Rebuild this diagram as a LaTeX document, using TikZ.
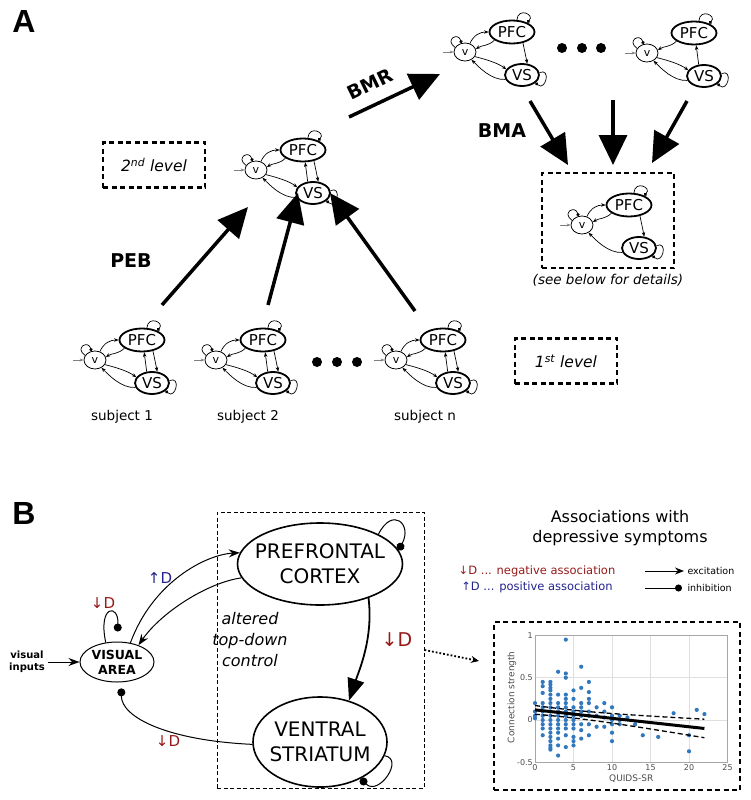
\documentclass[tikz,border=0pt]{standalone}
\usepackage{fontspec}
\setmainfont{DejaVu Sans}
\newfontfamily\panelfont{Liberation Sans}
\usetikzlibrary{shapes, arrows.meta, positioning}
\definecolor{negred}{RGB}{150,25,25}
\definecolor{posblue}{RGB}{35,35,140}
\definecolor{ptblue}{RGB}{50,120,190}

% panel A: small network motifs
\tikzstyle{vnode} = [ellipse, draw, line width=0.8pt, minimum width=22pt, minimum height=18pt, inner sep=0pt, font=\fontsize{11}{11}\selectfont]
\tikzstyle{pfcnode} = [ellipse, draw, line width=1.8pt, minimum width=45pt, minimum height=23pt, inner sep=0pt, font=\fontsize{15}{15}\selectfont]
\tikzstyle{vsnode} = [pfcnode, minimum width=34pt, minimum height=22pt]
\tikzstyle{small} = [line width=0.7pt, -{Stealth[length=4.5pt,width=3.5pt]}]
\tikzstyle{smallinh} = [line width=0.7pt, -{Circle[length=3.2pt]}]
\tikzstyle{input} = [line width=0.7pt, gray, -{Stealth[length=4pt,width=3pt]}]
\tikzstyle{bigarrow} = [line width=3.5pt, -{Triangle[length=30pt,width=28pt]}]
\tikzstyle{dashbox} = [draw, line width=2.4pt, dash pattern=on 5pt off 3.5pt]
\tikzstyle{levelbox} = [dashbox, minimum width=102pt, minimum height=45pt, font=\fontsize{15.5}{15.5}\selectfont\itshape]
\tikzstyle{method} = [font=\fontsize{19}{19}\selectfont\bfseries]
\tikzstyle{subj} = [font=\fontsize{13.5}{13.5}\selectfont]
\tikzstyle{panel} = [font=\panelfont\bfseries\fontsize{32}{32}\selectfont]
% panel B
\tikzstyle{region} = [ellipse, draw, line width=1.6pt, align=center, inner xsep=-10pt, inner ysep=0pt, font=\fontsize{20}{25}\selectfont]
\tikzstyle{visarea} = [ellipse, draw, line width=1pt, align=center, inner xsep=-3pt, inner ysep=0pt, minimum width=74pt, minimum height=40pt, font=\fontsize{12.5}{15}\selectfont\bfseries]
\tikzstyle{exc} = [line width=1pt, -{Stealth[length=11pt,width=8pt]}]
\tikzstyle{inh} = [line width=1pt, -{Circle[length=8pt]}]
\tikzstyle{bigexc} = [line width=1.8pt, -{Triangle[length=22pt,width=17pt]}]
\tikzstyle{ctrlbox} = [draw, line width=1pt, dash pattern=on 4pt off 2.5pt, minimum width=207pt, minimum height=276pt]
\tikzstyle{dlab} = [font=\fontsize{15}{15}\selectfont]
\tikzstyle{leg} = [font=\fontsize{11.5}{11.5}\selectfont]
\tikzstyle{legsmall} = [font=\fontsize{9.5}{9.5}\selectfont, anchor=west]
\tikzstyle{tick} = [font=\fontsize{8}{8}\selectfont, text=gray!60!black, inner sep=2pt]

\tikzset{motif/.pic={
  \node[vnode] (-v) at (0,0) {v};
  \node[pfcnode] (-pfc) at (47,-20) {PFC};
  \node[vsnode] (-vs) at (57,23) {VS};
  \coordinate (-in) at (-22,0);
  \draw[input] (-in) -- (-v.west);
  \draw[smallinh] (-v.155) .. controls +(-11,-8) and +(-3,-11) .. (-v.112);
  \draw[smallinh] (-pfc.68) .. controls +(1,-13) and +(8,-8) .. (-pfc.32);
  \draw[smallinh] (-vs.8) .. controls +(12,-5) and +(10,9) .. (-vs.-30);
}}
\newcommand{\edgeVP}[1]{\draw[small] (#1-v.60) .. controls +(4,-9) and +(-8,0) .. (#1-pfc.west);}
\newcommand{\edgePV}[1]{\draw[small] (#1-pfc.205) .. controls +(-6,6) and +(6,-4) .. (#1-v.15);}
\newcommand{\edgePS}[1]{\draw[small] (#1-pfc.-45) -- (#1-vs.65);}
\newcommand{\edgeSP}[1]{\draw[small] (#1-vs.115) -- (#1-pfc.-80);}
\newcommand{\edgeVS}[1]{\draw[small] (#1-v.-25) .. controls +(12,3) and +(-8,-6) .. (#1-vs.160);}
\newcommand{\edgeSV}[1]{\draw[small] (#1-vs.195) .. controls +(-14,1) and +(7,7) .. (#1-v.-50);}

\begin{document}
\begin{tikzpicture}[x=1pt, y=-1pt]
\useasboundingbox (0,0) rectangle (750,800);

%% ---------------- A ----------------
\node[panel] (la) at (24,21) {A};

\pic (grp) at (256,170) {motif};
\pic (bmr1) at (465,52) {motif};
\pic (bmr2) at (647,53) {motif};
\pic (res) at (582,225) {motif};
\pic (s1) at (95,360) {motif};
\pic (s2) at (216,360) {motif};
\pic (sn) at (396,360) {motif};

\foreach \m in {grp,s1,s2,sn} {\edgeVP{\m}\edgePV{\m}\edgePS{\m}\edgeSP{\m}\edgeVS{\m}\edgeSV{\m}}
\edgeVP{bmr1}\edgePV{bmr1}\edgePS{bmr1}\edgeVS{bmr1}\edgeSV{bmr1}
\edgePV{bmr2}\edgeSP{bmr2}\edgeVS{bmr2}\edgeSV{bmr2}
\edgeVP{res}\edgePV{res}\edgePS{res}\edgeSV{res}

\foreach \x in {562,582,601} \fill (\x,48) circle (5pt);
\foreach \x in {317,337,357} \fill (\x,362) circle (5pt);

\node[levelbox] (lev2) at (154,165) {2\textsuperscript{nd} level};
\node[levelbox] (lev1) at (566,361) {1\textsuperscript{st} level};
\node[dashbox, minimum width=132pt, minimum height=95pt] (resbox) at (608,220.5) {};
\node[font=\fontsize{13.5}{13.5}\selectfont\itshape, below=2pt of resbox] (details) {(see below for details)};

\node[subj] (lab1) at (122,417) {subject 1};
\node[subj] (lab2) at (248,417) {subject 2};
\node[subj] (labn) at (425,417) {subject n};

% PEB
\coordinate (p1a) at (162,305); \coordinate (p1b) at (248,207);
\coordinate (p2a) at (268,305); \coordinate (p2b) at (298,193);
\coordinate (p3a) at (415,311); \coordinate (p3b) at (330,193);
\draw[bigarrow] (p1a) -- (p1b);
\draw[bigarrow] (p2a) -- (p2b);
\draw[bigarrow] (p3a) -- (p3b);
\node[method] (peb) at (131,261) {PEB};

% BMR
\coordinate (r1a) at (349,117); \coordinate (r1b) at (440,74);
\draw[bigarrow] (r1a) -- (r1b);
\node[method, rotate=26, inner sep=1pt] (bmr) at (370,84) {BMR};

% BMA
\coordinate (m1a) at (530,101); \coordinate (m1b) at (568,165);
\coordinate (m2a) at (613,100); \coordinate (m2b) at (613,165);
\coordinate (m3a) at (687,101); \coordinate (m3b) at (652,163);
\draw[bigarrow] (m1a) -- (m1b);
\draw[bigarrow] (m2a) -- (m2b);
\draw[bigarrow] (m3a) -- (m3b);
\node[method] (bma) at (502,131) {BMA};

%% ---------------- B ----------------
\node[panel] (lb) at (24,513) {B};

\node[ctrlbox] (ctrl) at (320.5,650) {};
\node[region, minimum width=165pt, minimum height=82pt] (pfc) at (320,564) {PREFRONTAL\\CORTEX};
\node[region, minimum width=134pt, minimum height=90pt] (vs) at (320,742) {VENTRAL\\STRIATUM};
\node[visarea] (va) at (117,662) {VISUAL\\AREA};
\node[font=\fontsize{10}{12}\selectfont\bfseries, align=center] (vin) at (27,662) {visual\\inputs};
\node[font=\fontsize{16}{21}\selectfont\itshape, align=center] (alt) at (250,640) {altered\\top-down\\control};

\draw[exc] (vin) -- (va);
\draw[exc] (va.55) .. controls +(22,-60) and +(-35,2) .. (pfc.172);
\draw[exc] (pfc.190) .. controls +(-35,5) and +(22,-32) .. (va.38);
\draw[inh, shorten >=10pt] (va.120) .. controls +(-8,-38) and +(2,-38) .. (va.north);
\draw[inh, shorten >=6pt] (vs.182) .. controls +(-85,-4) and +(0,35) .. (va.-78);
\draw[bigexc] (pfc.-35) .. controls +(5,40) and +(10,-30) .. (vs.55);
\draw[inh] (pfc.27) .. controls +(14,-28) and +(14,-26) .. (pfc.10);
\draw[inh] (vs.-12) .. controls +(20,3) and +(18,18) .. (vs.-42);

\node[dlab, text=negred] (dva) at (103,603) {↓D};
\node[dlab, text=posblue] (dup) at (160,578) {↑D};
\node[dlab, text=negred] (dvs) at (168,741) {↓D};
\node[font=\fontsize{19}{19}\selectfont, text=negred] (dpfc) at (397,640) {↓D};

% legend
\node[font=\fontsize{16}{20}\selectfont, align=center] (title) at (620,528) {Associations with\\depressive symptoms};
\node[leg, text=negred] (negl) at (537,571) {↓D ... negative association};
\node[leg, text=posblue] (posl) at (537,587) {↑D ... positive association};
\node[legsmall] (exlab) at (684,571) {excitation};
\node[legsmall] (inlab) at (684,588) {inhibition};
\coordinate (ex1) at (645,571);
\coordinate (in1) at (645,588);
\draw[line width=1pt, -{Stealth[length=9pt,width=7pt]}] (ex1) -- (exlab.west);
\draw[line width=1pt, -{Circle[length=7pt]}] (in1) -- ([xshift=-2pt]inlab.west);

% scatter plot
\node[dashbox, minimum width=246pt, minimum height=168pt] (plot) at (617,706) {};
\coordinate (dotend) at (479,661);
\draw[line width=1.8pt, dotted, -{Stealth[length=8pt,width=7pt]}] (ctrl.east) -- (dotend);

\begin{scope}[shift={(535,720)}, x=7.7pt, y=84.6pt]
  \foreach \t in {5,10,15,20} \draw[gray!25, line width=0.6pt] (\t,-0.5) -- (\t,1);
  \foreach \t in {0,0.5} \draw[gray!25, line width=0.6pt] (0,\t) -- (25,\t);
  \draw[gray!70, line width=0.6pt] (0,-0.5) rectangle (25,1);
  \foreach \t in {0,5,...,25} \node[tick, below] at (\t,-0.5) {\t};
  \foreach \t in {-0.5,0,0.5,1} \node[tick, left] at (0,\t) {\t};
  \node[tick, font=\fontsize{9}{9}\selectfont] at (12.5,-0.69) {QUIDS-SR};
  \node[tick, font=\fontsize{9}{9}\selectfont, rotate=90] at (-3.0,0.27) {Connection strength};
  \foreach \px/\py in {0/0.2,0/0.05,0/0.02,0/0.1, 1/0.45,1/0.4,1/0.32,1/0.2,1/0.15,1/0.1,1/0.05,1/0,1/-0.05,1/-0.1,1/-0.18,
    2/0.45,2/0.42,2/0.38,2/0.35,2/0.3,2/0.25,2/0.2,2/0.15,2/0.1,2/0.05,2/0,2/-0.05,2/-0.1,2/-0.15,2/-0.2,2/-0.25,2/-0.3,2/-0.33,2/-0.35,
    3/0.57,3/0.3,3/0.2,3/0.15,3/0.1,3/0.05,3/0,3/-0.05,3/-0.1,3/-0.15,3/-0.22,3/-0.3,3/-0.42,
    4/0.95,4/0.55,4/0.5,4/0.3,4/0.25,4/0.2,4/0.15,4/0.1,4/0.05,4/0,4/-0.05,4/-0.1,4/-0.18,4/-0.32,
    5/0.35,5/0.25,5/0.15,5/0.1,5/0.05,5/0,5/-0.05,5/-0.1,5/-0.2,5/-0.25,5/-0.3,
    6/0.63,6/0.38,6/0.2,6/0.15,6/0.1,6/0.05,6/-0.05,6/-0.12,6/-0.22,
    7/0.45,7/0.33,7/0.25,7/0.2,7/0.1,7/0.05,7/-0.05,7/-0.18,
    8/0.15,8/0.05,8/-0.08, 9/0.2,9/0.1,9/0.03,9/-0.08,
    10/0.15,10/0.05,10/0,10/-0.05,10/-0.15,10/-0.25, 11/0.05,11/0,11/-0.05,
    12/0.03, 13/-0.05, 14/-0.18, 16/-0.2, 18/0.08, 20/-0.18,20/-0.37, 21/0.12, 22/0.07}
    \fill[ptblue] (\px,\py) circle (2.1pt);
  \draw[line width=3pt] (0,0.12) -- (22,-0.1);
  \draw[line width=1.3pt, dash pattern=on 5pt off 3pt] plot[domain=0:22, samples=12] (\x, {0.12-0.01*\x + sqrt(0.00211+0.0000244*(\x-4)^2)});
  \draw[line width=1.3pt, dash pattern=on 5pt off 3pt] plot[domain=0:22, samples=12] (\x, {0.12-0.01*\x - sqrt(0.00211+0.0000244*(\x-4)^2)});
\end{scope}

\end{tikzpicture}
\end{document}
